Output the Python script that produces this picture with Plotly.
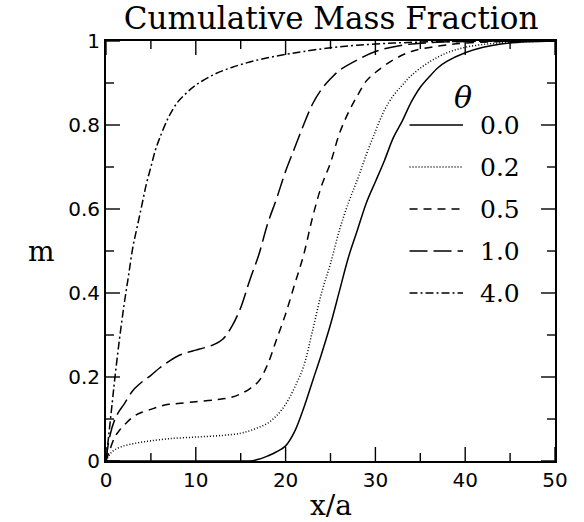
import plotly.graph_objects as go

# ---- data ----
x_solid = [0, 15, 16, 17, 18, 19, 20, 21, 22, 23, 24, 25, 26, 27, 28, 29, 30, 31, 32, 33, 34, 35, 36, 37, 38, 40, 42, 44, 47, 50]
m_solid = [0, 0, 0, 0.004, 0.012, 0.022, 0.036, 0.07, 0.125, 0.19, 0.255, 0.325, 0.405, 0.485, 0.55, 0.615, 0.665, 0.715, 0.77, 0.81, 0.855, 0.89, 0.915, 0.937, 0.952, 0.972, 0.985, 0.993, 0.998, 1.0]

x_dot = [0, 0.5, 1, 2, 3, 4, 5, 7, 10, 13, 15, 16, 17, 18, 19, 20, 21, 22, 23, 24, 25, 26, 27, 28, 29, 30, 31, 32, 33, 34, 36, 38, 40, 43, 46, 50]
m_dot = [0, 0.018, 0.027, 0.036, 0.041, 0.045, 0.048, 0.053, 0.057, 0.061, 0.066, 0.072, 0.08, 0.09, 0.108, 0.135, 0.175, 0.225, 0.31, 0.40, 0.47, 0.55, 0.615, 0.67, 0.73, 0.785, 0.835, 0.87, 0.895, 0.918, 0.95, 0.972, 0.985, 0.994, 0.998, 1.0]

x_dash = [0, 0.4, 1, 1.5, 2, 3, 4, 5, 6, 7, 8, 10, 12, 13, 14, 15, 16, 17, 18, 19, 20, 21, 22, 23, 24, 25, 26, 27, 28, 29, 30, 32, 34, 37, 40, 45, 50]
m_dash = [0, 0.025, 0.058, 0.073, 0.085, 0.105, 0.116, 0.123, 0.13, 0.135, 0.137, 0.141, 0.145, 0.148, 0.152, 0.16, 0.172, 0.19, 0.23, 0.29, 0.35, 0.42, 0.49, 0.58, 0.655, 0.71, 0.78, 0.83, 0.87, 0.905, 0.925, 0.955, 0.975, 0.988, 0.995, 0.999, 1.0]

x_long = [0, 0.4, 1, 1.5, 2, 3, 4, 5, 6, 7, 8, 9, 10, 11, 12, 13, 14, 15, 16, 17, 18, 19, 20, 21, 22, 23, 24, 25, 26, 28, 30, 33, 36, 40, 45, 50]
m_long = [0, 0.057, 0.1, 0.12, 0.135, 0.168, 0.188, 0.204, 0.222, 0.237, 0.25, 0.258, 0.264, 0.27, 0.277, 0.29, 0.32, 0.365, 0.43, 0.49, 0.565, 0.625, 0.69, 0.745, 0.80, 0.85, 0.885, 0.91, 0.93, 0.955, 0.975, 0.99, 0.996, 0.999, 1.0, 1.0]

x_dd = [0, 0.3, 0.7, 1, 1.5, 2, 2.5, 3, 3.5, 4, 4.5, 5, 5.5, 6, 7, 8, 9, 10, 12, 14, 16, 18, 20, 22, 25, 28, 32, 36, 40, 50]
m_dd = [0, 0.06, 0.14, 0.2, 0.29, 0.37, 0.44, 0.51, 0.56, 0.61, 0.66, 0.70, 0.74, 0.77, 0.82, 0.855, 0.877, 0.895, 0.92, 0.937, 0.95, 0.96, 0.968, 0.975, 0.984, 0.99, 0.995, 0.998, 0.999, 1.0]

theta_labels = ["0.0", "0.2", "0.5", "1.0", "4.0"]
legend_rows = [0.8, 0.7, 0.6, 0.5, 0.4]

x_major = [0, 10, 20, 30, 40, 50]
x_minor = [5, 15, 25, 35, 45]
y_major = [0, 0.2, 0.4, 0.6, 0.8, 1.0]
y_minor = [0.1, 0.3, 0.5, 0.7, 0.9]

series = [
    (x_solid, m_solid, "solid"),
    (x_dot, m_dot, "1px,2px"),
    (x_dash, m_dash, "8px,6px"),
    (x_long, m_long, "18px,6px"),
    (x_dd, m_dd, "8px,3px,2px,3px"),
]

SERIF = "DejaVu Serif"
SANS = "DejaVu Sans"
MAJ, MIN = 14, 8
LW = 1.5

fig = go.Figure()
for (xs, ms, dash), lab in zip(series, theta_labels):
    fig.add_trace(go.Scatter(x=xs, y=ms, mode="lines", name=lab, line_shape="spline",
                             line=dict(color="black", width=LW, dash=dash), showlegend=False))

# inward tick marks on all four sides (pixel-length shapes anchored at tick values)
tick_line = dict(color="black", width=1.4)
for vals, ln in ((x_major, MAJ), (x_minor, MIN)):
    for v in vals:
        fig.add_shape(type="line", xref="x", yref="y", x0=v, x1=v, ysizemode="pixel", yanchor=0,
                      y0=0, y1=ln, line=tick_line)
        fig.add_shape(type="line", xref="x", yref="y", x0=v, x1=v, ysizemode="pixel", yanchor=1,
                      y0=0, y1=-ln, line=tick_line)
for vals, ln in ((y_major, MAJ), (y_minor, MIN)):
    for v in vals:
        fig.add_shape(type="line", xref="x", yref="y", y0=v, y1=v, xsizemode="pixel", xanchor=0,
                      x0=0, x1=ln, line=tick_line)
        fig.add_shape(type="line", xref="x", yref="y", y0=v, y1=v, xsizemode="pixel", xanchor=50,
                      x0=0, x1=-ln, line=tick_line)

# manual legend (layout decoration)
leg_x0, leg_x1, leg_lab = 33.8, 39.75, 41.4
for (xs, ms, dash), lab, yr in zip(series, theta_labels, legend_rows):
    fig.add_shape(type="line", xref="x", yref="y", x0=leg_x0, x1=leg_x1, y0=yr, y1=yr,
                  line=dict(color="black", width=LW, dash=dash))
    fig.add_annotation(x=leg_lab, y=yr, xref="x", yref="y", text=lab, showarrow=False,
                       xanchor="left", yanchor="middle", font=dict(family=SERIF, size=25, color="black"))
fig.add_annotation(x=39.75, y=0.866, xref="x", yref="y", text="θ", showarrow=False,
                   xanchor="center", yanchor="middle",
                   font=dict(family=SERIF, size=30, color="black", style="italic"))

# axis titles
fig.add_annotation(x=-0.143, y=0.5, xref="paper", yref="paper", text="m", showarrow=False,
                   xanchor="center", yanchor="middle", font=dict(family=SERIF, size=28, color="black"))
fig.add_annotation(x=0.5, y=-0.107, xref="paper", yref="paper", text="x/a", showarrow=False,
                   xanchor="center", yanchor="middle", font=dict(family=SERIF, size=28, color="black"))

axis_common = dict(showline=True, linecolor="black", linewidth=1.8, mirror=True,
                   ticks="", showgrid=False, zeroline=False,
                   tickfont=dict(family=SANS, size=20, color="black"))

fig.update_layout(
    width=584, height=522,
    margin=dict(l=106, r=29, t=41, b=61),
    paper_bgcolor="white", plot_bgcolor="white",
    title=dict(text="Cumulative Mass Fraction", x=0.567, xanchor="center",
               y=1 - 18 / 522, yanchor="middle", font=dict(family=SERIF, size=31, color="black")),
    xaxis=dict(range=[0, 50], tickvals=x_major, **axis_common),
    yaxis=dict(range=[0, 1], tickvals=y_major, ticksuffix="  ", **axis_common),
)

fig.write_html("out.html", config={"displayModeBar": False},
               post_script="document.body.style.margin='0';")
